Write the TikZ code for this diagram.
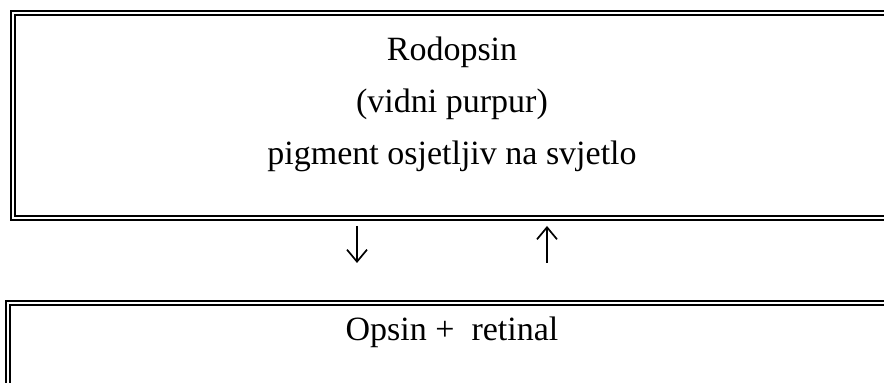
\documentclass[tikz,border=0pt]{standalone}
\usepackage{fontspec}
\setmainfont{Liberation Serif}
\usetikzlibrary{arrows.meta}
\tikzstyle{dbox}=[draw, double=white, double distance=1pt, line width=1pt]
\tikzstyle{txt}=[anchor=base, inner sep=0, font=\fontsize{17}{20}\selectfont]
\tikzstyle{arr}=[line width=0.85pt, -{Straight Barb[length=6pt, width=10pt, line width=0.85pt]}]

\begin{document}
\begin{tikzpicture}[x=0.5pt, y=-0.5pt]
\useasboundingbox (0,0) rectangle (884,383);
\begin{scope}
\clip (0,0) rectangle (884,383);
\draw[dbox] (13,13) rectangle (920,218);
\draw[dbox] (8,303) rectangle (920,420);
\end{scope}
\node at (452,61)[txt](rod){Rodopsin};
\node at (452,113)[txt](vid){(vidni purpur)};
\node at (452,165)[txt](pig){pigment osjetljiv na svjetlo};
\node at (452,341)[txt](ops){Opsin + \ retinal};
\coordinate (a1) at (357,226);
\coordinate (b1) at (357,263);
\coordinate (a2) at (547,263);
\coordinate (b2) at (547,226);
\draw[arr] (a1)--(b1);
\draw[arr] (a2)--(b2);
\end{tikzpicture}
\end{document}
